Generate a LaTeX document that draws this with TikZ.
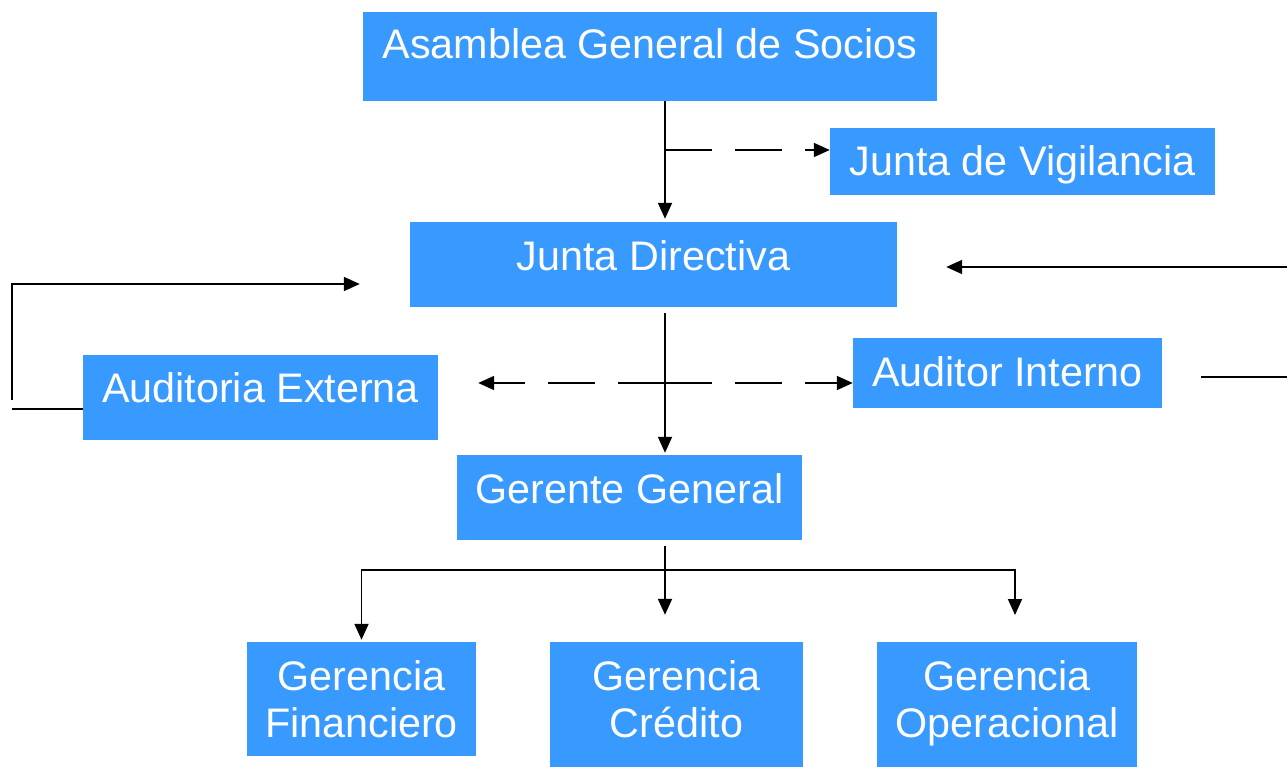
\documentclass[tikz,border=0pt]{standalone}
\usepackage{fontspec}
\setmainfont{Liberation Sans}
\usetikzlibrary{arrows.meta,calc}
\definecolor{boxblue}{RGB}{56,153,255}
\begin{document}
\begin{tikzpicture}[x=1pt,y=-1pt,
  box/.style={draw=none,fill=boxblue,rectangle,inner sep=0pt},
  txt/.style={text=white,inner sep=0pt,anchor=base,align=center,font=\fontsize{41.3}{47}\selectfont},
  conn/.style={line width=1.8pt,draw=black},
  arr/.style={conn,-{Triangle[length=16pt,width=14pt]}},
  dsh/.style={dash pattern=on 47pt off 23pt}]
\useasboundingbox (0,0) rectangle (1287,767);
% boxes
\node[box,minimum width=574pt,minimum height=89pt] (asm) at (650,56.5) {};
\node[box,minimum width=385pt,minimum height=67pt] (jv) at (1022.5,161.5) {};
\node[box,minimum width=487pt,minimum height=85pt] (jd) at (653.5,264.5) {};
\node[box,minimum width=355pt,minimum height=85pt] (ae) at (260.5,397.5) {};
\node[box,minimum width=309pt,minimum height=70pt] (ai) at (1007.5,373) {};
\node[box,minimum width=345pt,minimum height=85pt] (gg) at (629.5,497.5) {};
\node[box,minimum width=229pt,minimum height=114pt] (gf) at (361.5,699) {};
\node[box,minimum width=253pt,minimum height=125pt] (gc) at (676.5,704.5) {};
\node[box,minimum width=260pt,minimum height=125pt] (go) at (1007,704.5) {};
% texts
\node[txt] (asmt) at (650,59) {Asamblea General de Socios};
\node[txt] (jvt) at (1022.5,176) {Junta de Vigilancia};
\node[txt] (jdt) at (653.5,270) {Junta Directiva};
\node[txt] (aet) at (260.5,402) {Auditoria Externa};
\node[txt] (ait) at (1007.5,386) {Auditor Interno};
\node[txt] (ggt) at (629.5,503) {Gerente General};
\node[txt] (gft) at (361.5,737) {Gerencia\\Financiero};
\node[txt] (gct) at (676.5,737) {Gerencia\\Crédito};
\node[txt] (got) at (1007,737) {Gerencia\\Operacional};
% coordinates
\coordinate (c1) at (665,150);
\coordinate (mid) at (665,383);
\coordinate (rin) at (1287,267);
\coordinate (rout) at (1287,377);
\coordinate (lc1) at (12,409);
\coordinate (lc2) at (12,400);
\coordinate (lc3) at (12,284);
\coordinate (bus) at (665,570);
% connectors
\draw[arr,shorten >=3pt] (asm.south -| c1) -- (jd.north -| c1);
\draw[arr,dsh] (c1) -- (jv.west |- c1);
\draw[arr,shorten <=6pt,shorten >=2pt] (jd.south -| mid) -- (gg.north -| mid);
\draw[arr,dsh] (mid) -- (ai.west |- mid);
\draw[arr,dsh,shorten >=40pt] (mid) -- (ae.east |- mid);
\draw[arr,shorten >=49pt] (rin) -- (jd.east |- rin);
\draw[conn,shorten <=39pt] (ai.east |- rout) -- (rout);
\draw[conn] (ae.west |- lc1) -- (lc1);
\draw[arr,shorten >=50pt] (lc2) -- (lc3) -- (jd.west |- lc3);
\draw[arr,shorten <=6pt,shorten >=27pt] (gg.south -| bus) -- (gc.north -| bus);
\draw[arr,shorten >=2pt] (bus) -- (bus -| gf.north) -- (gf.north);
\draw[arr,shorten >=27pt] (bus) -- (bus -| 1015,0) -- (1015,642);
\end{tikzpicture}
\end{document}
